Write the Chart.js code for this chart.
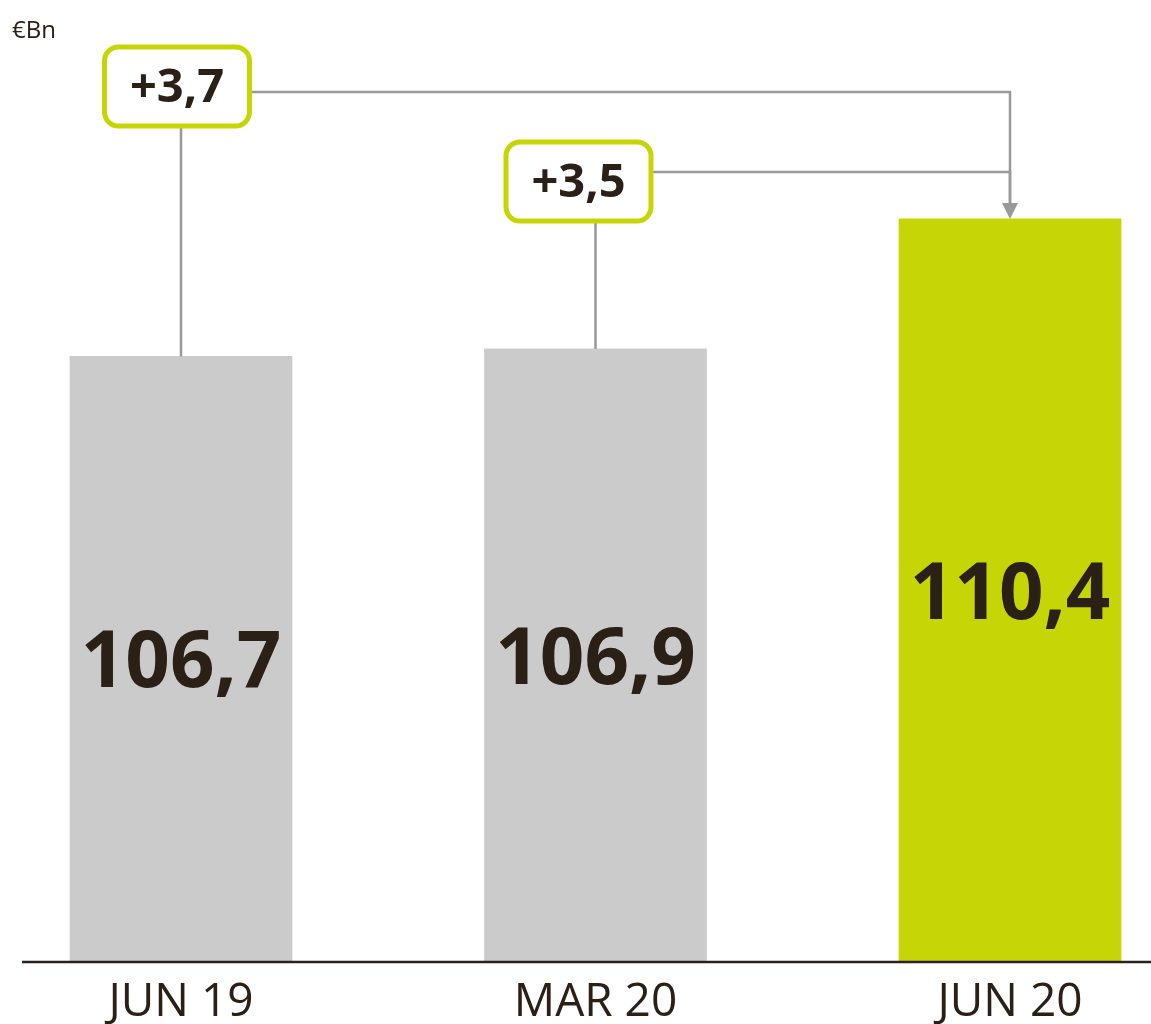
<!DOCTYPE html>
<html lang="en">
<head>
    <meta charset="UTF-8">
    <title>€Bn comparison</title>
    <script src="https://cdn.jsdelivr.net/npm/chart.js"></script>
    <style>
        html, body { margin: 0; padding: 0; background: #fff; }
        #wrap { position: relative; width: 1151px; height: 1024px; }
    </style>
</head>
<body>
    <div id="wrap"><canvas id="barChart"></canvas></div>

    <script>
        // data
        const categories = ['JUN 19', 'MAR 20', 'JUN 20'];
        const values = [106.7, 106.9, 110.4];
        const valueLabels = ['106,7', '106,9', '110,4'];
        const barColors = ['#cbcbcb', '#cbcbcb', '#c5d506'];
        const deltaLabels = ['+3,7', '+3,5'];
        const deltaFrom = [0, 1];
        const deltaTo = 2;
        const unitLabel = '€Bn';

        const textColor = '#2b2016';
        const lineGray = '#999999';
        const green = '#c5d506';

        // box placement (style only)
        const boxTop = [47, 142];
        const boxDx = [-4, -17];
        const linkY = [92, 172];
        const boxW = 145, boxH = 79;

        function roundRect(ctx, x, y, w, h, r) {
            ctx.beginPath();
            ctx.moveTo(x + r, y);
            ctx.lineTo(x + w - r, y);
            ctx.arcTo(x + w, y, x + w, y + r, r);
            ctx.lineTo(x + w, y + h - r);
            ctx.arcTo(x + w, y + h, x + w - r, y + h, r);
            ctx.lineTo(x + r, y + h);
            ctx.arcTo(x, y + h, x, y + h - r, r);
            ctx.lineTo(x, y + r);
            ctx.arcTo(x, y, x + r, y, r);
            ctx.closePath();
        }

        const annotations = {
            id: 'annotations',
            afterDatasetsDraw(chart) {
                const ctx = chart.ctx;
                const bars = chart.getDatasetMeta(0).data;
                const area = chart.chartArea;
                ctx.save();

                // base line
                ctx.strokeStyle = '#2b2118';
                ctx.lineWidth = 2.5;
                ctx.beginPath();
                ctx.moveTo(22, area.bottom);
                ctx.lineTo(chart.width, area.bottom);
                ctx.stroke();

                // unit
                ctx.fillStyle = textColor;
                ctx.font = '24px "Open Sans"';
                ctx.textAlign = 'left';
                ctx.textBaseline = 'alphabetic';
                ctx.fillText(unitLabel, 12, 38);

                // values inside bars
                ctx.font = 'bold 78px "Open Sans"';
                ctx.textAlign = 'center';
                ctx.textBaseline = 'middle';
                bars.forEach((bar, i) => {
                    ctx.fillText(valueLabels[i], bar.x, (bar.y + bar.base) / 2 + 6);
                });

                // connectors
                const target = bars[deltaTo];
                ctx.strokeStyle = lineGray;
                ctx.lineWidth = 2.5;
                deltaFrom.forEach((idx, k) => {
                    const bar = bars[idx];
                    const bx = bar.x + boxDx[k] - boxW / 2;
                    const by = boxTop[k];
                    ctx.beginPath();
                    ctx.moveTo(bar.x, bar.y);
                    ctx.lineTo(bar.x, by + boxH);
                    ctx.moveTo(bx + boxW, linkY[k]);
                    ctx.lineTo(target.x, linkY[k]);
                    ctx.lineTo(target.x, target.y - 14);
                    ctx.stroke();
                });

                // arrow head
                ctx.fillStyle = lineGray;
                ctx.beginPath();
                ctx.moveTo(target.x, target.y);
                ctx.lineTo(target.x - 8, target.y - 16);
                ctx.lineTo(target.x + 8, target.y - 16);
                ctx.closePath();
                ctx.fill();

                // delta boxes
                deltaFrom.forEach((idx, k) => {
                    const bar = bars[idx];
                    const bx = bar.x + boxDx[k] - boxW / 2;
                    const by = boxTop[k];
                    roundRect(ctx, bx, by, boxW, boxH, 14);
                    ctx.fillStyle = '#fff';
                    ctx.fill();
                    ctx.strokeStyle = green;
                    ctx.lineWidth = 5;
                    ctx.stroke();
                    ctx.fillStyle = textColor;
                    ctx.font = 'bold 47px "Open Sans"';
                    ctx.textAlign = 'center';
                    ctx.textBaseline = 'middle';
                    ctx.fillText(deltaLabels[k], bx + boxW / 2, by + boxH / 2 + 2);
                });

                ctx.restore();
            }
        };

        const chart = new Chart(document.getElementById('barChart').getContext('2d'), {
            type: 'bar',
            data: {
                labels: categories,
                datasets: [{
                    data: values,
                    backgroundColor: barColors,
                    borderWidth: 0,
                    barThickness: 222,
                    base: 90.4,
                    clip: false
                }]
            },
            options: {
                responsive: true,
                maintainAspectRatio: false,
                animation: false,
                layout: { padding: { left: 181, right: 141, top: 48, bottom: 0 } },
                plugins: {
                    legend: { display: false },
                    tooltip: { enabled: false }
                },
                scales: {
                    x: {
                        offset: false,
                        grid: { display: false },
                        border: { display: false },
                        ticks: {
                            color: textColor,
                            font: { family: 'Open Sans', size: 46 },
                            padding: 5,
                            maxRotation: 0
                        },
                        afterFit(scale) { scale.height = 62; }
                    },
                    y: {
                        display: false,
                        min: 90.4,
                        max: 115
                    }
                }
            },
            plugins: [annotations]
        });
    </script>
</body>
</html>
